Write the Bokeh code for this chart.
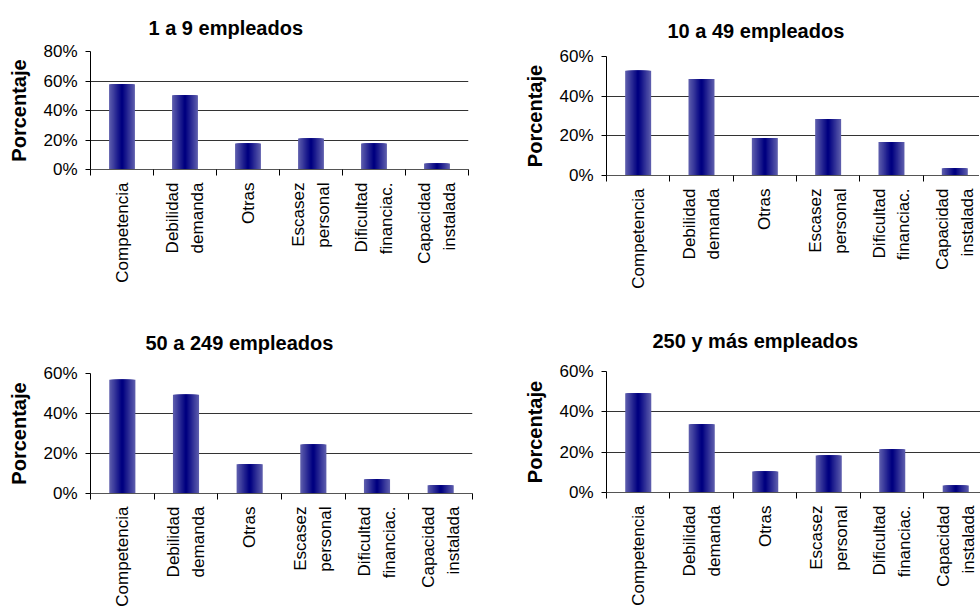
from math import pi

from bokeh.plotting import figure
from bokeh.layouts import column, row
from bokeh.models import FixedTicker, PrintfTickFormatter, Range1d
from bokeh.embed import file_html
from bokeh.resources import INLINE

# ---------------- data ----------------
categories = ["Competencia", "Debilidad\ndemanda", "Otras", "Escasez\npersonal",
              "Dificultad\nfinanciac.", "Capacidad\ninstalada"]
titles = ["1 a 9 empleados", "10 a 49 empleados", "50 a 249 empleados", "250 y más empleados"]
emp_1_9 = [57.8, 50.3, 17.7, 21.1, 17.7, 4.1]
emp_10_49 = [52.8, 48.7, 18.9, 28.5, 16.9, 3.7]
emp_50_249 = [56.9, 49.4, 14.6, 24.5, 7.1, 4.1]
emp_250_mas = [49.2, 33.8, 10.4, 18.4, 21.4, 3.5]
y_ticks_1_9 = [0, 20, 40, 60, 80]
y_ticks_other = [0, 20, 40, 60]
y_label = "Porcentaje"

FONT = "Liberation Sans"
EDGE = (92, 92, 172)
CENTER = (0, 0, 128)
N_LAYERS = 12
BAR_W = 0.41


def layer_colors():
    out = []
    for k in range(N_LAYERS):
        t = k / (N_LAYERS - 1)
        c = tuple(int(round(EDGE[i] + (CENTER[i] - EDGE[i]) * t)) for i in range(3))
        out.append("#%02x%02x%02x" % c)
    return out


def make_panel(title, values, y_ticks, fw, fh, left, right, top, bottom,
               x_end, title_offset, title_standoff):
    xs = [i + 0.5 for i in range(len(categories))]
    p = figure(frame_width=fw, frame_height=fh,
               x_range=Range1d(0, x_end), y_range=Range1d(0, y_ticks[-1]),
               output_backend="svg", toolbar_location=None,
               min_border_left=left, min_border_right=right,
               min_border_top=top, min_border_bottom=bottom)
    p.outline_line_color = None
    p.background_fill_color = "white"
    p.border_fill_color = "white"

    p.title.text = title
    p.title.align = "left"
    p.title.offset = title_offset
    p.title.text_font = FONT
    p.title.text_font_size = "20px"
    p.title.text_font_style = "bold"
    p.title.text_color = "black"
    p.title.standoff = title_standoff

    cols = layer_colors()
    for k in range(N_LAYERS):
        p.vbar(x=xs, top=values, width=BAR_W * (1 - k / N_LAYERS),
               fill_color=cols[k], line_color=None)

    # x axis
    xa = p.xaxis[0]
    xa.ticker = FixedTicker(ticks=xs, minor_ticks=list(range(len(categories) + 1)))
    xa.major_label_overrides = {x: c for x, c in zip(xs, categories)}
    xa.major_label_orientation = pi / 2
    xa.major_tick_out = 0
    xa.major_tick_in = 0
    xa.minor_tick_out = 6
    xa.minor_tick_in = 0
    xa.minor_tick_line_color = "black"
    xa.axis_line_color = "#555555"
    xa.major_label_text_font = FONT
    xa.major_label_text_font_size = "17px"
    xa.major_label_text_color = "black"
    xa.major_label_standoff = 7
    xa.major_label_text_line_height = 1.3
    p.xgrid.visible = False

    # y axis
    ya = p.yaxis[0]
    ya.ticker = FixedTicker(ticks=y_ticks)
    ya.formatter = PrintfTickFormatter(format="%d%%")
    ya.major_tick_out = 5
    ya.major_tick_in = 0
    ya.minor_tick_line_color = None
    ya.axis_line_color = "black"
    ya.major_tick_line_color = "black"
    ya.major_label_text_font = FONT
    ya.major_label_text_font_size = "17px"
    ya.major_label_text_color = "black"
    ya.major_label_standoff = 8
    ya.axis_label = y_label
    ya.axis_label_text_font = FONT
    ya.axis_label_text_font_size = "20px"
    ya.axis_label_text_font_style = "bold"
    ya.axis_label_text_color = "black"
    ya.axis_label_standoff = 10
    p.ygrid.grid_line_color = "#333333"
    p.ygrid.grid_line_width = 1
    return p


p1 = make_panel(titles[0], emp_1_9, y_ticks_1_9, 378, 118, 90, 18, 51, 136, 6, 58, 25)
p2 = make_panel(titles[1], emp_10_49, y_ticks_other, 373, 119, 116, 0, 56, 130, 5.89, 61, 30)
p3 = make_panel(titles[2], emp_50_249, y_ticks_other, 382, 120, 90, 18, 68, 117, 6, 55, 40)
p4 = make_panel(titles[3], emp_250_mas, y_ticks_other, 374, 121, 116, 0, 66, 118, 5.89, 46, 40)

layout = row(column(p1, p3), column(p2, p4))

open("out.html", "w").write(file_html(layout, INLINE))
